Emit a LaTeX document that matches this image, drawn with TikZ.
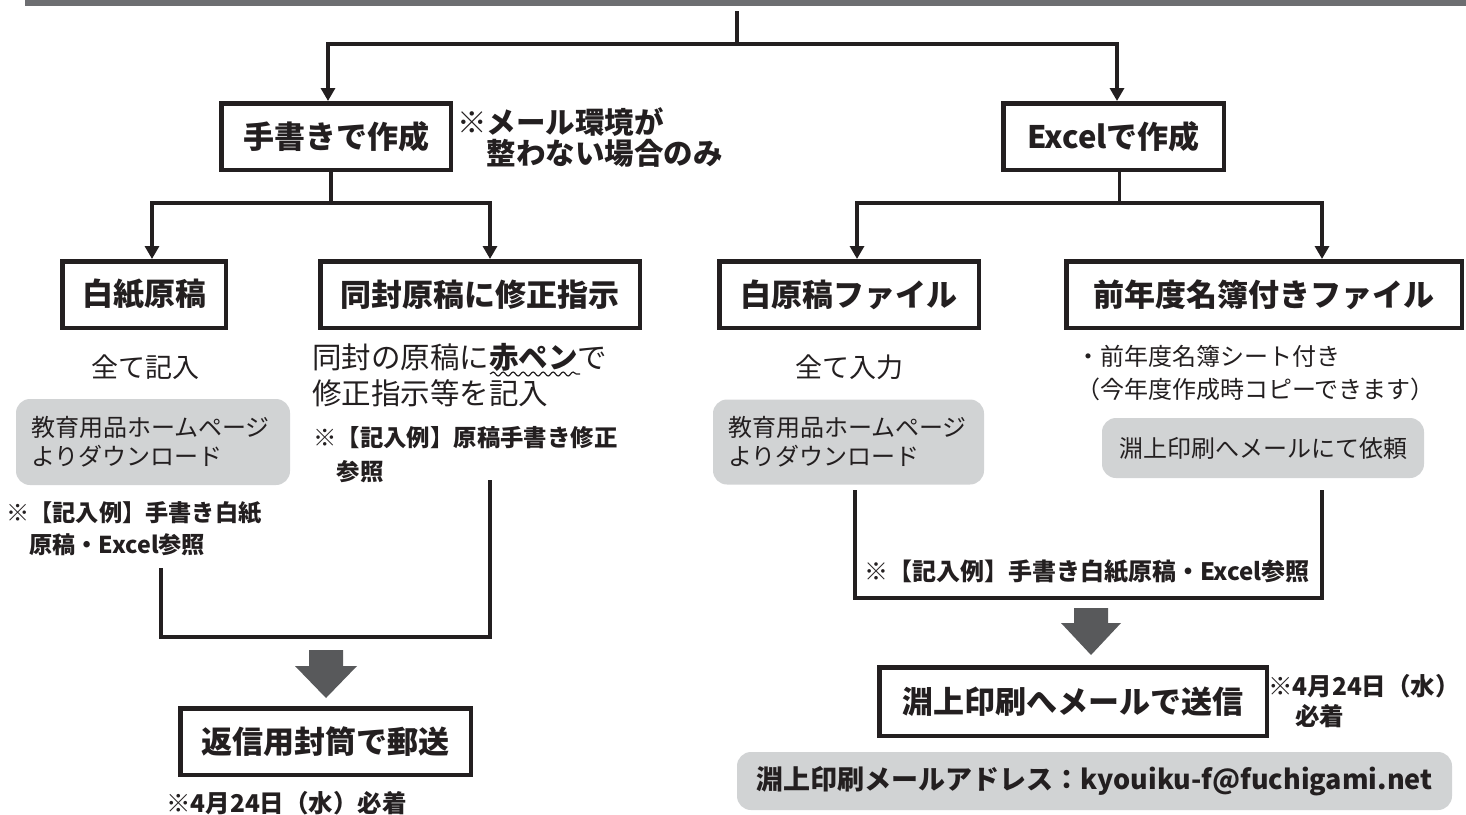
\documentclass[tikz,border=0pt]{standalone}
\usepackage{fontspec}
\setmainfont{Noto Sans CJK JP}
\usetikzlibrary{arrows.meta,decorations.pathmorphing}
\definecolor{ink}{HTML}{231F20}
\definecolor{barg}{HTML}{6D6E71}
\definecolor{boxg}{HTML}{D1D3D4}
\definecolor{arrg}{HTML}{58595B}
\tikzset{
  fbox/.style={draw=ink, line width=4.5pt, fill=white, text=ink,
    font=\fontsize{31}{36}\selectfont\bfseries, inner sep=0pt},
  gbox/.style={fill=boxg, rounded corners=14pt, text=ink, inner sep=0pt},
  conn/.style={draw=ink, line width=3.2pt},
  arr/.style={conn, -{Triangle[width=14pt,length=13pt]}},
  plain/.style={text=ink, inner sep=0pt, align=left},
  bigarrow/.style={fill=arrg},
  wave/.style={draw=ink, line width=1.2pt, decorate,
    decoration={snake, amplitude=2pt, segment length=10pt}},
}
\begin{document}
\begin{tikzpicture}[x=1pt,y=-1pt]
\useasboundingbox (0,0) rectangle (1466,814);
\fill[barg] (25,0) rectangle (1466,5.5);

% main boxes
\node[fbox, minimum width=229.5pt, minimum height=66.5pt] (b1) at (336,136.5) {手書きで作成};
\node[fbox, minimum width=220.5pt, minimum height=66.5pt] (b2) at (1113.5,136.5) {Excelで作成};
\node[fbox, minimum width=163.5pt, minimum height=66.5pt] (b3) at (144,294.5) {白紙原稿};
\node[fbox, minimum width=319.5pt, minimum height=66.5pt] (b4) at (480,294.5) {同封原稿に修正指示};
\node[fbox, minimum width=259.5pt, minimum height=66.5pt] (b5) at (849,294.5) {白原稿ファイル};
\node[fbox, minimum width=395.5pt, minimum height=66.5pt] (b6) at (1264,294.5) {前年度名簿付きファイル};
\node[fbox, minimum width=290.5pt, minimum height=66.5pt] (b7) at (325.5,741.5) {返信用封筒で郵送};
\node[fbox, minimum width=387.5pt, minimum height=68.5pt] (b8) at (1073,701.5) {淵上印刷へメールで送信};

% plain texts and notes
\node[plain, anchor=west, font=\fontsize{29.5}{31}\selectfont\bfseries] (n1) at (457,137.5)
  {※メール環境が\\\hspace*{1em}整わない場合のみ};
\node[plain, font=\fontsize{27}{32}\selectfont] (t1) at (145,367) {全て記入};
\node[plain, font=\fontsize{27}{32}\selectfont] (t2) at (849,367) {全て入力};
\node[plain, anchor=west, font=\fontsize{29.5}{36}\selectfont] (t3) at (312,375)
  {同封の原稿に\textbf{赤ペン}で\\修正指示等を記入};
\node[plain, anchor=west, font=\fontsize{23.2}{32.5}\selectfont\bfseries] (n2) at (6,528.5)
  {※【記入例】手書き白紙\\\hspace*{1em}原稿・Excel参照};
\node[plain, anchor=west, font=\fontsize{23.4}{34}\selectfont\bfseries] (n3) at (313,455)
  {※【記入例】原稿手書き修正\\\hspace*{1em}参照};
\node[plain, anchor=west, font=\fontsize{24.5}{28}\selectfont\bfseries] (n4) at (166,803)
  {※4月24日（水）必着};
\node[plain, anchor=west, font=\fontsize{24}{33}\selectfont] (t8) at (1076,373)
  {・前年度名簿シート付き\\（今年度作成時コピーできます）};
\node[plain, font=\fontsize{24}{28}\selectfont\bfseries] (n5) at (1087,572)
  {※【記入例】手書き白紙原稿・Excel参照};
\node[plain, anchor=west, font=\fontsize{24.5}{30}\selectfont\bfseries] (n6) at (1268,701)
  {※4月24日（水）\\\hspace*{1.1em}必着};

% grey boxes
\node[gbox, minimum height=86pt, text width=244pt, inner xsep=15pt, align=left,
  font=\fontsize{24}{29}\selectfont] (g1) at (153,442) {教育用品ホームページ\\よりダウンロード};
\node[gbox, minimum height=85pt, text width=241pt, inner xsep=15pt, align=left,
  font=\fontsize{24}{29}\selectfont] (g2) at (848.5,442) {教育用品ホームページ\\よりダウンロード};
\node[gbox, minimum width=322pt, minimum height=60pt, font=\fontsize{24}{28}\selectfont]
  (g3) at (1263,448) {淵上印刷へメールにて依頼};
\node[gbox, minimum width=715pt, minimum height=58pt, font=\fontsize{27}{30}\selectfont\bfseries]
  (g4) at (1094.5,781) {淵上印刷メールアドレス：kyouiku-f@fuchigami.net};

% wavy underline
\draw[wave] (490,374) -- (580,374);

% top connectors
\coordinate (top) at (737,11);
\coordinate (hl) at (328,44);
\coordinate (hr) at (1117,44);
\draw[conn] (top) -- (top |- hl);
\draw[conn, line width=4pt, line cap=rect] (hl) -- (hr);
\draw[arr] (hl) -- (hl |- b1.north);
\draw[arr] (hr) -- (hr |- b2.north);

% left branch
\coordinate (l1) at (152,203);
\coordinate (l2) at (490,203);
\draw[conn] ([xshift=-5pt]b1.south) -- ([xshift=-5pt]b1.south |- l1);
\draw[conn, line cap=rect] (l1) -- (l2);
\draw[arr] (l1) -- (l1 |- b3.north);
\draw[arr] (l2) -- (l2 |- b4.north);

% right branch
\coordinate (r1) at (857,203);
\coordinate (r2) at (1322,203);
\draw[conn] ([xshift=6pt]b2.south) -- ([xshift=6pt]b2.south |- r1);
\draw[conn, line cap=rect] (r1) -- (r2);
\draw[arr] (r1) -- (r1 |- b5.north);
\draw[arr] (r2) -- (r2 |- b6.north);

% lower brackets
\coordinate (lb1) at (161,568);
\coordinate (lb2) at (490,480);
\coordinate (lbc) at (490,637);
\draw[conn] (lb1) |- (lbc) -- (lb2);
\coordinate (rb1) at (855,490);
\coordinate (rb2) at (1322,490);
\coordinate (rbc) at (1322,598);
\draw[conn] (rb1) |- (rbc) -- (rb2);

% big arrows
\fill[bigarrow, shift={(326,650)}] (-17,0) -- (17,0) -- (17,16) -- (31,16) -- (0,48)
  -- (-31,16) -- (-17,16) -- cycle;
\fill[bigarrow, shift={(1091,608)}] (-17,0) -- (17,0) -- (17,15) -- (30,15) -- (0,47)
  -- (-30,15) -- (-17,15) -- cycle;
\end{tikzpicture}
\end{document}
